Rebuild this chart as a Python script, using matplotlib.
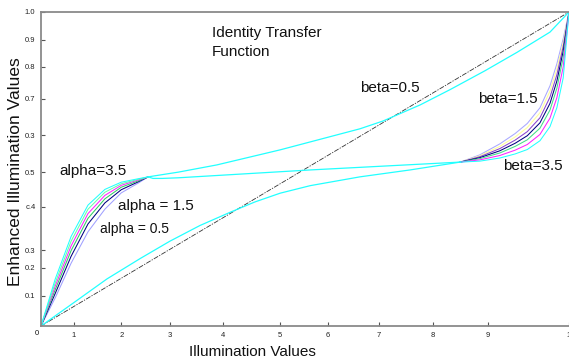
import matplotlib
matplotlib.use("Agg")
import matplotlib.pyplot as plt

W, H = 569, 360

# identity line
ident_x = [0.0, 1.0]
ident_y = [0.0, 1.0]

# alpha family (left cluster), top to bottom
alpha_x = [0.0, 0.027, 0.057, 0.089, 0.121, 0.152, 0.184, 0.203]
alpha_cyan = [0.0, 0.150, 0.285, 0.385, 0.435, 0.458, 0.469, 0.475]
alpha_green = [0.0, 0.138, 0.270, 0.372, 0.426, 0.453, 0.467, 0.475]
alpha_magenta = [0.0, 0.127, 0.255, 0.358, 0.416, 0.448, 0.465, 0.475]
alpha_green2 = [0.0, 0.116, 0.240, 0.343, 0.405, 0.442, 0.462, 0.475]
alpha_navy = [0.0, 0.104, 0.222, 0.325, 0.392, 0.434, 0.459, 0.475]
alpha_lightblue = [0.0, 0.090, 0.200, 0.300, 0.372, 0.424, 0.455, 0.475]

# beta family (right cluster), top to bottom
beta_x = [0.794, 0.831, 0.869, 0.898, 0.921, 0.945, 0.964, 0.977, 0.989, 1.0]
beta_lightblue = [0.522, 0.545, 0.580, 0.613, 0.645, 0.695, 0.765, 0.835, 0.915, 1.0]
beta_yellow = [0.522, 0.542, 0.572, 0.602, 0.632, 0.679, 0.748, 0.818, 0.903, 1.0]
beta_purple = [0.522, 0.539, 0.565, 0.592, 0.619, 0.663, 0.729, 0.800, 0.890, 1.0]
beta_navy = [0.522, 0.536, 0.558, 0.582, 0.606, 0.647, 0.709, 0.780, 0.875, 1.0]
beta_green = [0.522, 0.533, 0.551, 0.572, 0.593, 0.630, 0.688, 0.757, 0.855, 1.0]
beta_magenta = [0.522, 0.529, 0.543, 0.560, 0.578, 0.610, 0.662, 0.727, 0.825, 1.0]
beta_cyan = [0.522, 0.525, 0.535, 0.548, 0.562, 0.590, 0.635, 0.695, 0.790, 1.0]

# beta=0.5 curve (upper cyan)
upper_x = [0.203, 0.260, 0.333, 0.453, 0.604, 0.648, 0.718, 0.775, 0.841, 0.902, 0.964, 1.0]
upper_y = [0.475, 0.490, 0.513, 0.561, 0.628, 0.653, 0.704, 0.753, 0.813, 0.872, 0.936, 1.0]

# flat link between clusters
flat_x = [0.203, 0.212, 0.230, 0.260, 0.510, 0.794]
flat_y = [0.475, 0.470, 0.470, 0.472, 0.497, 0.522]

# alpha=0.5 curve (lower cyan)
lower_x = [0.0, 0.061, 0.125, 0.188, 0.244, 0.301, 0.358, 0.405, 0.453, 0.510, 0.604, 0.699, 0.794]
lower_y = [0.0, 0.073, 0.150, 0.215, 0.270, 0.320, 0.362, 0.395, 0.423, 0.447, 0.475, 0.497, 0.522]

xtick_pos = [0.0625, 0.152, 0.244, 0.345, 0.453, 0.544, 0.640, 0.742, 0.847, 1.0]
xtick_lab = ['1', '2', '3', '4', '5', '6', '7', '8', '9', '1']
ytick_pos = [0.096, 0.185, 0.242, 0.379, 0.490, 0.608, 0.723, 0.825, 0.911, 1.0]
ytick_lab = ['0.1', '0.2', '0.3', 'c.4', '0.5', '0.3', '0.7', '0.8', '0.9', '1.0']

plt.rcParams['font.family'] = ['Liberation Sans', 'DejaVu Sans']

fig = plt.figure(figsize=(W / 100, H / 100), dpi=100)
ax = fig.add_axes([41 / W, 34 / H, 528 / W, 314 / H])

CYAN = '#22ffff'
lw = 0.75
alpha_set = [(alpha_lightblue, '#a0a0ff'), (alpha_navy, '#000080'), (alpha_green2, '#33cc66'),
             (alpha_magenta, '#ff22ff'), (alpha_green, '#66ffaa'), (alpha_cyan, CYAN)]
for ys, c in alpha_set:
    ax.plot(alpha_x, ys, color=c, lw=lw)

beta_set = [(beta_lightblue, '#a8a8ff'), (beta_yellow, '#ffff99'), (beta_purple, '#8844cc'),
            (beta_navy, '#000080'), (beta_green, '#44dd88'), (beta_magenta, '#ff22ff'),
            (beta_cyan, CYAN)]
for ys, c in beta_set:
    ax.plot(beta_x, ys, color=c, lw=lw)

ax.plot(ident_x, ident_y, color='#333333', lw=0.6, ls=(0, (6, 1.5, 1.5, 1.5)))
ax.plot(upper_x, upper_y, color=CYAN, lw=0.9)
ax.plot(flat_x, flat_y, color=CYAN, lw=0.9)
ax.plot(lower_x, lower_y, color=CYAN, lw=0.9)

ax.set_xlim(0, 1)
ax.set_ylim(0, 1)
for s in ['top', 'left', 'bottom']:
    ax.spines[s].set_color('#8a8a8a')
    ax.spines[s].set_linewidth(1.3)
ax.spines['right'].set_visible(False)

ax.set_xticks(xtick_pos, xtick_lab)
ax.set_yticks(ytick_pos, ytick_lab)
ax.tick_params(axis='both', direction='in', length=3, width=0.8, color='#555555',
               labelsize=5.5, labelcolor='#222222')
ax.tick_params(axis='x', pad=4)
ax.tick_params(axis='y', pad=4)


def put(px, py, s, size, **kw):
    fig.text(px / W, 1 - py / H, s, fontsize=size, va='baseline', ha='left', color='#111111', **kw)


put(35, 335, '0', 5.5)
put(212, 37, 'Identity Transfer', 11)
put(212, 56, 'Function', 11)
put(360, 92, 'beta=0.5', 11)
put(478, 103, 'beta=1.5', 11)
put(503, 170, 'beta=3.5', 11)
put(59, 175, 'alpha=3.5', 11)
put(118, 210, 'alpha = 1.5', 11)
put(100, 233, 'alpha = 0.5', 10)

fig.text(252 / W, 1 - 352 / H, 'Illumination Values', fontsize=11, ha='center', va='center', color='#111111')
fig.text(16 / W, 1 - 172 / H, 'Enhanced Illumination Values', fontsize=12.5, rotation=90,
         ha='center', va='center', color='#111111')

fig.savefig('out.png', dpi=100)
